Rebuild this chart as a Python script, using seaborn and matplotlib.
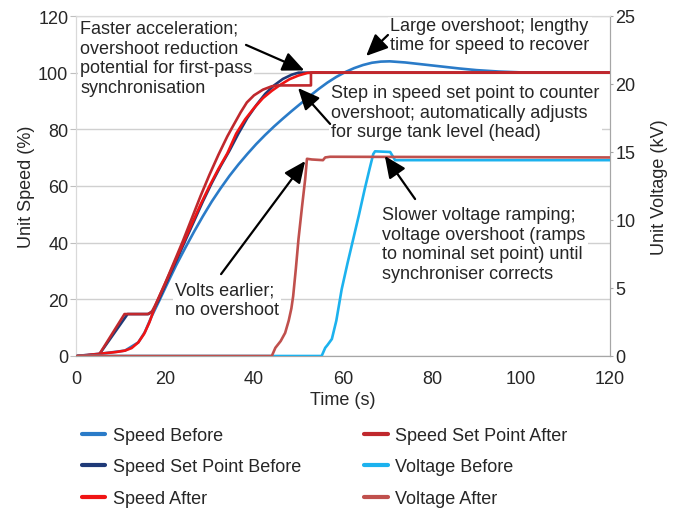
import matplotlib
matplotlib.use("Agg")
import matplotlib.pyplot as plt
import seaborn as sns
from matplotlib.lines import Line2D

# Series (time in s, speed in %, voltage in kV)
speed_before_t = [0, 6, 11, 14, 15.5, 17, 18.7, 20.5, 22.5, 24.5, 26.5, 28.5, 30.5, 32.5, 34.5,
                  36.5, 38.5, 40.5, 42.5, 44.5, 46.5, 48.5, 50.5, 52.5, 54.5, 56.5, 58.5, 60.5,
                  62.5, 64.5, 66.5, 68.5, 70.5, 74, 78, 82, 86, 90, 95, 100, 105, 120]
speed_before = [0, 0.9, 1.9, 4.8, 8.5, 14, 19.5, 25.5, 32, 38, 43.8, 49.3, 54.5, 59.2, 63.6,
                67.6, 71.3, 74.8, 78, 81, 83.8, 86.5, 89.1, 91.7, 94.2, 96.5, 98.5, 100.2,
                101.6, 102.7, 103.5, 103.9, 104, 103.6, 102.9, 102.2, 101.5, 100.9, 100.4, 100.1, 100, 100]

sp_before_t = [0, 5.2, 11.6, 16.3, 17.3, 18.5, 20.5, 22.5, 24.5, 26.5, 28.5, 30.5, 32.5, 34.5,
               36.5, 38.5, 40.5, 42.5, 44.5, 46.5, 48.5, 50, 120]
sp_before = [0, 0.5, 14.8, 14.8, 16, 19.5, 26.5, 33.5, 40.5, 47.5, 54.5, 61, 67, 72.5,
             78.5, 84, 88.5, 92.5, 95.5, 97.8, 99.3, 100, 100]

speed_after_t = [0, 3, 6, 9, 11, 12.5, 14, 15.3, 16.5, 18, 20, 22, 24, 26, 28, 30, 32, 34, 36,
                 38, 40, 42, 44, 46, 48, 50, 52, 54, 56, 120]
speed_after = [0, 0.4, 0.9, 1.4, 1.9, 2.8, 4.8, 7.8, 11.9, 18.5, 25.5, 32.5, 39.5, 46.5, 53.5,
               60, 66, 71.5, 78.5, 83.5, 87.5, 91, 93.6, 95.8, 97.7, 99, 99.9, 100.1, 100, 100]

sp_after_t = [0, 5.2, 10.9, 16.1, 17, 18, 20, 22, 24, 26, 28, 30, 32, 34, 35.4, 37, 38.4, 40,
              42, 44, 45.5, 52.8, 52.8, 60, 120]
sp_after = [0, 0.5, 14.8, 14.8, 15.5, 18.5, 25.5, 33, 40.5, 48.5, 56.5, 64, 71, 77.5, 81.5, 86,
            89.5, 92, 94, 95.2, 95.5, 95.5, 100, 100, 100]

volt_before_t = [0, 55.2, 56, 56.5, 57.5, 58.5, 59.7, 61, 62.3, 63.6, 64.9, 66, 66.8, 67.2,
                 70.6, 71.7, 120]
volt_before = [0, 0, 0.6, 0.8, 1.25, 2.6, 4.9, 6.8, 8.6, 10.4, 12.3, 13.8, 14.85, 15.05,
               15.0, 14.4, 14.4]

volt_after_t = [0, 44, 44.8, 46, 47, 47.8, 48.4, 48.8, 49.4, 50, 50.8, 51.5, 51.9, 53, 55.5,
                56, 57.1, 120]
volt_after = [0, 0, 0.6, 1.1, 1.7, 2.6, 3.5, 4.4, 6.4, 8.6, 11, 13, 14.5, 14.45, 14.4,
              14.6, 14.65, 14.6]

labels = ['Speed Before', 'Speed Set Point Before', 'Speed After',
          'Speed Set Point After', 'Voltage Before', 'Voltage After']
colors = ['#2a7bc8', '#1f3a78', '#f01414', '#c0282d', '#1cb2ee', '#c0504d']

sns.set_style('white')
plt.rcParams['font.family'] = ['Liberation Sans', 'DejaVu Sans']

fig = plt.figure(figsize=(6.79, 5.10), dpi=100)
ax = fig.add_axes([76 / 679, 1 - 357 / 510, 534 / 679, 340 / 510])
ax2 = ax.twinx()

speed_series = [(speed_before_t, speed_before), (sp_before_t, sp_before),
                (speed_after_t, speed_after), (sp_after_t, sp_after)]
for (t, v), c in zip(speed_series, colors[:4]):
    sns.lineplot(x=t, y=v, ax=ax, color=c, lw=1.9, estimator=None, sort=False,
                 legend=False, zorder=3)

for (t, v), c in zip([(volt_before_t, volt_before), (volt_after_t, volt_after)], colors[4:]):
    sns.lineplot(x=t, y=v, ax=ax2, color=c, lw=1.9, estimator=None, sort=False,
                 legend=False, zorder=3)

ax.set_xlim(0, 120)
ax.set_ylim(0, 120)
ax2.set_ylim(0, 25)
ax.set_xticks(range(0, 121, 20))
ax.set_yticks(range(0, 121, 20))
ax2.set_yticks(range(0, 26, 5))

ax.set_axisbelow(True)
ax.grid(axis='y', color='#d0d0d0', lw=1)
ax.grid(axis='x', visible=False)
ax2.grid(False)

for a in (ax, ax2):
    a.spines['top'].set_color('#d9d9d9')
    a.spines['left'].set_color('#d9d9d9')
    a.spines['right'].set_color('#a6a6a6')
    a.spines['bottom'].set_color('#a6a6a6')

ax.tick_params(axis='y', labelsize=13, length=4, pad=1.5, color='#bfbfbf', left=True)
ax.tick_params(axis='x', labelsize=13, length=0, pad=10)
ax2.tick_params(axis='y', labelsize=13, length=2, pad=2, color='#a6a6a6', right=True)

ax.set_xlabel('Time (s)', fontsize=13, labelpad=3)
ax.set_ylabel('Unit Speed (%)', fontsize=13, labelpad=2.5)
ax2.set_ylabel('Unit Voltage (kV)', fontsize=13, labelpad=11)

# annotations: text boxes sit below the curves but above the gridlines
box = dict(facecolor='white', edgecolor='none', pad=1.5)
arrow = dict(arrowstyle='-|>,head_length=0.6,head_width=0.27', color='black', lw=1.6,
             mutation_scale=22, shrinkA=0, shrinkB=0)

notes = [
    ('Faster acceleration;\novershoot reduction\npotential for first-pass\nsynchronisation',
     (0.9, 118.6), (38.2, 109.8), (51.3, 100.8)),
    ('Large overshoot; lengthy\ntime for speed to recover',
     (70.6, 119.8), (70.1, 113.3), (65.2, 105.9)),
    ('Step in speed set point to counter\novershoot; automatically adjusts\nfor surge tank level (head)',
     (57.3, 96.0), (57.1, 81.9), (49.9, 94.6)),
    ('Volts earlier;\nno overshoot',
     (22.2, 26.4), (32.6, 28.9), (51.5, 68.8)),
    ('Slower voltage ramping;\nvoltage overshoot (ramps\nto nominal set point) until\nsynchroniser corrects',
     (68.8, 52.9), (76.2, 55.4), (69.4, 70.6)),
]
for text, pos, tail, tip in notes:
    ax.text(pos[0], pos[1], text, fontsize=13, ha='left', va='top', bbox=box, zorder=1.5,
            linespacing=1.2)
    ax2.annotate('', xy=tip, xytext=tail, xycoords=ax.transData, textcoords=ax.transData,
                 arrowprops=arrow, zorder=5)

handles = [Line2D([], [], color=c, lw=3) for c in colors]
fig.legend(handles, labels, ncol=2, loc='upper left', bbox_to_anchor=(82 / 679, 1 - 428 / 510),
           frameon=False, fontsize=13, handlelength=1.3, handletextpad=0.4,
           columnspacing=3.5, labelspacing=0.8, borderpad=0, borderaxespad=0)

fig.savefig('out.png', dpi=100)
